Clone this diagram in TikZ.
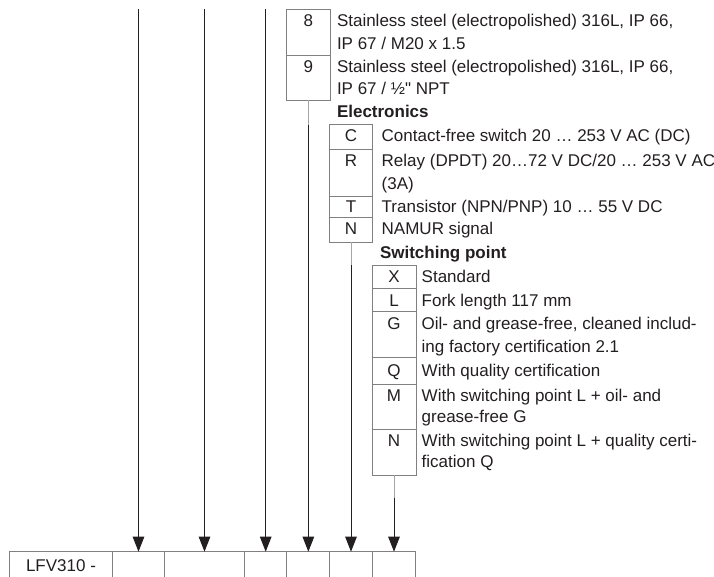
\documentclass[tikz,border=0pt]{standalone}
\usepackage{fontspec}
\setmainfont{Liberation Sans}
\newfontfamily\plainsans{Liberation Sans}
\usetikzlibrary{arrows.meta}
\definecolor{tgray}{RGB}{128,128,128}
\definecolor{ink}{RGB}{35,31,32}
\definecolor{stub}{RGB}{165,165,165}
\begin{document}
\begin{tikzpicture}[x=1pt,y=-1pt,
  every node/.style={inner sep=0pt, outer sep=0pt, text=ink, font=\plainsans\fontsize{17}{21}\selectfont},
  cellbox/.style={draw=tgray, line width=0.9pt, anchor=north west},
  code/.style={anchor=base},
  desc/.style={anchor=base west},
  head/.style={anchor=base west, font=\plainsans\fontsize{17}{21}\selectfont\bfseries},
  conn/.style={draw=ink, line width=1pt, -{Triangle[length=15pt,width=11.5pt]}},
  stubline/.style={draw=stub, line width=1pt}]
\useasboundingbox (0,0) rectangle (714,576);
\clip (0,0) rectangle (714,576);

% ---- bottom order-code row ----
\node[cellbox, minimum width=103.4pt, minimum height=50pt] (b0) at (9.3,551.7) {};
\node[cellbox, minimum width=51.6pt, minimum height=50pt] (b1) at (112.7,551.7) {};
\node[cellbox, minimum width=80.4pt, minimum height=50pt] (b2) at (164.3,551.7) {};
\node[cellbox, minimum width=42pt, minimum height=50pt] (b3) at (244.7,551.7) {};
\node[cellbox, minimum width=42.6pt, minimum height=50pt] (b4) at (286.7,551.7) {};
\node[cellbox, minimum width=43pt, minimum height=50pt] (b5) at (329.3,551.7) {};
\node[cellbox, minimum width=43.4pt, minimum height=50pt] (b6) at (372.3,551.7) {};
\node[anchor=base] (lfv) at (61,571) {LFV310 -};

% ---- housing table 8/9 ----
\node[cellbox, minimum width=43.3pt, minimum height=45.7pt] (s8) at (286.7,9.3) {};
\node[cellbox, minimum width=43.3pt, minimum height=45pt] (s9) at (286.7,55) {};
\node[code] (k8) at (308.3,26) {8};
\node[code] (k9) at (308.3,72.5) {9};
\node[desc] (d8a) at (337,26) {Stainless steel (electropolished) 316L, IP 66,};
\node[desc] (d8b) at (337,49) {IP 67 / M20 x 1.5};
\node[desc] (d9a) at (337,72.5) {Stainless steel (electropolished) 316L, IP 66,};
\node[desc] (d9b) at (337,94) {IP 67 / ½" NPT};

% ---- electronics ----
\node[head] (he) at (337,117.5) {Electronics};
\node[cellbox, minimum width=43.4pt, minimum height=25.3pt] (eC) at (329.3,124) {};
\node[cellbox, minimum width=43.4pt, minimum height=46.7pt] (eR) at (329.3,149.3) {};
\node[cellbox, minimum width=43.4pt, minimum height=21.3pt] (eT) at (329.3,196) {};
\node[cellbox, minimum width=43.4pt, minimum height=24.7pt] (eN) at (329.3,217.3) {};
\node[code] (kC) at (351,141) {C};
\node[code] (kR) at (351,166) {R};
\node[code] (kT) at (351,212) {T};
\node[code] (kN) at (351,234) {N};
\node[desc] (dC) at (381.7,141) {Contact-free switch 20 … 253 V AC (DC)};
\node[desc] (dRa) at (381.7,166) {Relay (DPDT) 20…72 V DC/20 … 253 V AC};
\node[desc] (dRb) at (381.7,189) {(3A)};
\node[desc] (dT) at (381.7,212) {Transistor (NPN/PNP) 10 … 55 V DC};
\node[desc] (dN) at (381.7,234) {NAMUR signal};

% ---- switching point ----
\node[head] (hs) at (380,258) {Switching point};
\node[cellbox, minimum width=44pt, minimum height=23pt] (pX) at (372,265) {};
\node[cellbox, minimum width=44pt, minimum height=23pt] (pL) at (372,288) {};
\node[cellbox, minimum width=44pt, minimum height=46pt] (pG) at (372,311) {};
\node[cellbox, minimum width=44pt, minimum height=27pt] (pQ) at (372,357) {};
\node[cellbox, minimum width=44pt, minimum height=45.3pt] (pM) at (372,384) {};
\node[cellbox, minimum width=44pt, minimum height=45.7pt] (pN) at (372,429.3) {};
\node[code] (kX) at (394,282.5) {X};
\node[code] (kL) at (394,306) {L};
\node[code] (kG) at (394,329) {G};
\node[code] (kQ) at (394,376) {Q};
\node[code] (kM) at (394,401) {M};
\node[code] (kN2) at (394,446) {N};
\node[desc] (dX) at (421.7,282.5) {Standard};
\node[desc] (dL) at (421.7,306) {Fork length 117 mm};
\node[desc] (dGa) at (421.7,329) {Oil- and grease-free, cleaned includ-};
\node[desc] (dGb) at (421.7,352.5) {ing factory certification 2.1};
\node[desc] (dQ) at (421.7,376) {With quality certification};
\node[desc] (dMa) at (421.7,401) {With switching point L + oil- and};
\node[desc] (dMb) at (421.7,422.5) {grease-free G};
\node[desc] (dNa) at (421.7,446) {With switching point L + quality certi-};
\node[desc] (dNb) at (421.7,467.5) {fication Q};

% ---- connectors ----
\coordinate (top) at (0,9.3);
\draw[conn] (b1.north |- top) -- (b1.north);
\draw[conn] (b2.north |- top) -- (b2.north);
\draw[conn] (b3.north |- top) -- (b3.north);

\draw[stubline] (s9.south) -- ++(0,25) coordinate (j4);
\draw[conn] (j4) -- (j4 |- b4.north);
\draw[stubline] (eN.south) -- ++(0,23) coordinate (j5);
\draw[conn] (j5) -- (j5 |- b5.north);
\draw[stubline] (pN.south) -- ++(0,23) coordinate (j6);
\draw[conn] (j6) -- (j6 |- b6.north);
\end{tikzpicture}
\end{document}
